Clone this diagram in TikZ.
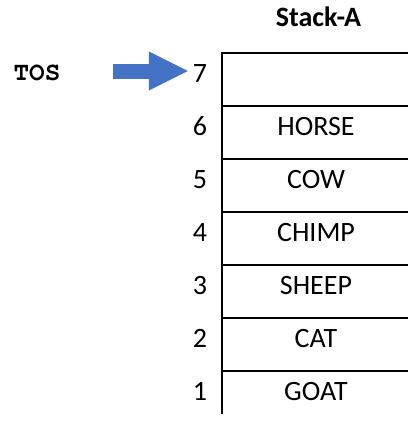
\documentclass[tikz,border=0pt]{standalone}
\usepackage{fontspec}
\setmainfont{Carlito}
\newfontfamily\tosfont{texgyrecursor}[Extension=.otf, UprightFont=*-regular, BoldFont=*-bold]
\usetikzlibrary{arrows.meta}
\definecolor{arrowblue}{RGB}{68,114,196}
\tikzset{
  rule/.style={draw=black, line width=2.4pt, line cap=rect},
  numlabel/.style={anchor=base, font=\fontsize{28}{32}\selectfont, inner sep=0pt, outer xsep=5pt},
  item/.style={anchor=base, font=\fontsize{28}{32}\selectfont, inner sep=0pt},
  title/.style={anchor=base, font=\bfseries\fontsize{28}{32}\selectfont, inner sep=0pt},
  toslabel/.style={anchor=base, font=\tosfont\bfseries\fontsize{26}{30}\selectfont, inner sep=0pt},
  pointer/.style={draw=arrowblue, line width=15pt, -{Triangle[length=39pt, width=39pt, line width=0pt 0 0]}}
}

\begin{document}
\begin{tikzpicture}[x=1pt, y=-1pt]
  \useasboundingbox (0,0) rectangle (407,423);
  \node[title] (title) at (318.5,27) {Stack-A};
  % stack frame
  \draw[rule] (222,53) -- (222,413);
  \foreach \r in {0,...,6}
    \draw[rule] (222,53+53*\r) -- (407,53+53*\r);
  % slot numbers and contents
  \foreach \i/\name [count=\r from 0] in {7/,6/HORSE,5/COW,4/CHIMP,3/SHEEP,2/CAT,1/GOAT} {
    \node[numlabel] (n\i) at (200,82+53*\r) {\i};
    \node[item] (item\i) at (316,82+53*\r) {\name};
  }
  \node[toslabel] (tos) at (37,80) {TOS};
  \coordinate (tail) at (113,71);
  \draw[pointer] (tail) -- (n7.west |- tail);
\end{tikzpicture}
\end{document}
